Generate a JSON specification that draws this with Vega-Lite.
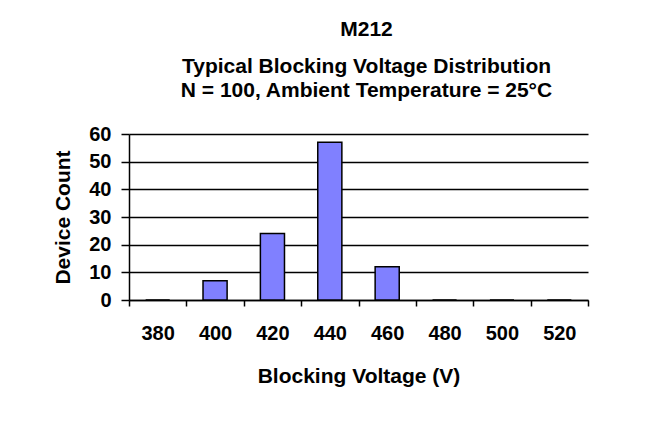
{
  "$schema": "https://vega.github.io/schema/vega-lite/v6.json",
  "width": 459,
  "height": 166,
  "autosize": {"type": "none"},
  "padding": {"left": 129, "top": 134, "right": 80, "bottom": 135},
  "background": "white",
  "config": {
    "font": "Liberation Sans",
    "view": {"stroke": null}
  },
  "title": {
    "text": "M212",
    "subtitle": ["Typical Blocking Voltage Distribution", "N = 100, Ambient Temperature = 25°C"],
    "anchor": "middle",
    "dx": 8,
    "offset": 23,
    "fontSize": 21,
    "fontWeight": "bold",
    "color": "black",
    "subtitleFontSize": 21,
    "subtitleFontWeight": "bold",
    "subtitleColor": "black",
    "subtitlePadding": 16,
    "subtitleLineHeight": 24
  },
  "data": {
    "values": [
      {"voltage": "380", "count": 0},
      {"voltage": "400", "count": 7},
      {"voltage": "420", "count": 24},
      {"voltage": "440", "count": 57},
      {"voltage": "460", "count": 12},
      {"voltage": "480", "count": 0},
      {"voltage": "500", "count": 0},
      {"voltage": "520", "count": 0}
    ]
  },
  "mark": {"type": "bar", "fill": "#8080FF", "stroke": "black", "strokeWidth": 1.5, "width": {"band": 0.42}},
  "encoding": {
    "x": {
      "field": "voltage",
      "type": "ordinal",
      "sort": null,
      "scale": {"paddingInner": 0, "paddingOuter": 0},
      "axis": {
        "title": "Blocking Voltage (V)",
        "labelAngle": 0,
        "tickBand": "extent",
        "domainColor": "black",
        "domainWidth": 1.5,
        "tickColor": "black",
        "tickWidth": 1.5,
        "tickSize": 6,
        "labelPadding": 17,
        "labelFontSize": 20,
        "labelFontWeight": "bold",
        "labelColor": "black",
        "titleFontSize": 21,
        "titleFontWeight": "bold",
        "titleColor": "black",
        "titlePadding": 22
      }
    },
    "y": {
      "field": "count",
      "type": "quantitative",
      "scale": {"domain": [0, 60]},
      "axis": {
        "title": "Device Count",
        "values": [0, 10, 20, 30, 40, 50, 60],
        "grid": true,
        "gridColor": "black",
        "gridWidth": 1.5,
        "gridOpacity": 1,
        "domainColor": "black",
        "domainWidth": 1.5,
        "tickColor": "black",
        "tickWidth": 1.5,
        "tickSize": 8,
        "labelPadding": 10,
        "labelFontSize": 20,
        "labelFontWeight": "bold",
        "labelColor": "black",
        "titleFontSize": 21,
        "titleFontWeight": "bold",
        "titleColor": "black",
        "titlePadding": 15
      }
    }
  }
}
